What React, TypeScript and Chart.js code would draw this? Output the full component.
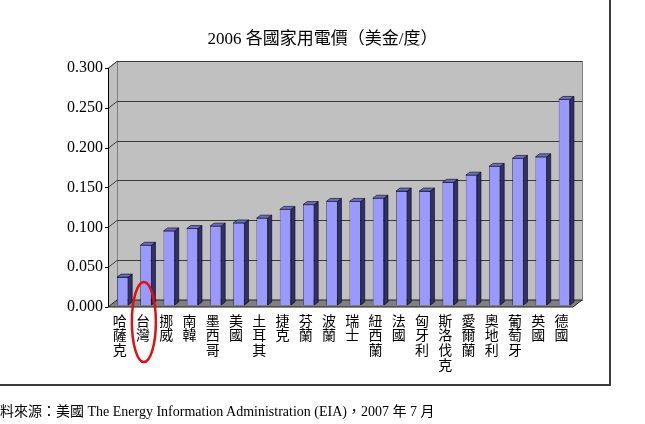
import React, { useEffect, useRef } from "react";
import { Chart, registerables } from "chart.js";

Chart.register(...registerables);

const TITLE = "2006 各國家用電價（美金/度）";
const SOURCE = "資料來源：美國 The Energy Information Administration (EIA)，2007 年 7 月";

const categories = [
  "哈薩克", "台灣", "挪威", "南韓", "墨西哥", "美國", "土耳其", "捷克", "芬蘭", "波蘭",
  "瑞士", "紐西蘭", "法國", "匈牙利", "斯洛伐克", "愛爾蘭", "奧地利", "葡萄牙", "英國", "德國",
];
const prices = [
  0.035, 0.075, 0.093, 0.096, 0.099, 0.103, 0.109, 0.120, 0.126, 0.130,
  0.130, 0.134, 0.143, 0.143, 0.154, 0.163, 0.174, 0.184, 0.186, 0.258,
];
const yMin = 0;
const yMax = 0.3;
const yStep = 0.05;
const highlightIndex = 1;

const DX = 9;
const DY = -7;
const BDX = 4;
const BDY = -3;
const SHIFT_X = 3;
const SHIFT_Y = -2;

const threeD = {
  id: "threeD",
  beforeDatasetsDraw(chart: any) {
    const { ctx, chartArea } = chart;
    const { left: L, right: R, top: T, bottom: B } = chartArea;
    const y = chart.scales.y;
    ctx.save();
    ctx.fillStyle = "#c0c0c0";
    ctx.beginPath();
    ctx.moveTo(L, T); ctx.lineTo(L + DX, T + DY); ctx.lineTo(L + DX, B + DY); ctx.lineTo(L, B);
    ctx.closePath(); ctx.fill();
    ctx.fillRect(L + DX, T + DY, R - L, B - T);
    ctx.strokeStyle = "#808080"; ctx.lineWidth = 1;
    ctx.strokeRect(L + DX + 0.5, T + DY + 0.5, R - L, B - T);
    ctx.beginPath();
    ctx.moveTo(L + 0.5, T); ctx.lineTo(L + DX + 0.5, T + DY);
    ctx.stroke();
    ctx.strokeStyle = "#3a3a3a"; ctx.lineWidth = 1;
    for (let v = yMin + yStep; v <= yMax + 1e-9; v += yStep) {
      const py = Math.round(y.getPixelForValue(v)) + 0.5;
      ctx.beginPath();
      ctx.moveTo(L, py); ctx.lineTo(L + DX, py + DY); ctx.lineTo(R + DX, py + DY);
      ctx.stroke();
    }
    ctx.fillStyle = "#808080";
    ctx.beginPath();
    ctx.moveTo(L, B); ctx.lineTo(L + DX, B + DY); ctx.lineTo(R + DX, B + DY); ctx.lineTo(R, B);
    ctx.closePath(); ctx.fill();
    ctx.strokeStyle = "#202020";
    ctx.stroke();
    ctx.strokeStyle = "#000"; ctx.lineWidth = 1;
    ctx.beginPath();
    ctx.moveTo(L + 0.5, T); ctx.lineTo(L + 0.5, B);
    for (let v = yMin; v <= yMax + 1e-9; v += yStep) {
      const py = Math.round(y.getPixelForValue(v)) + 0.5;
      ctx.moveTo(L - 3, py); ctx.lineTo(L, py);
    }
    ctx.stroke();
    ctx.restore();
    ctx.save();
    ctx.translate(SHIFT_X, SHIFT_Y);
  },
  afterDatasetsDraw(chart: any) {
    const { ctx } = chart;
    const meta = chart.getDatasetMeta(0);
    ctx.save();
    ctx.lineWidth = 0.6;
    ctx.strokeStyle = "#000";
    meta.data.forEach((bar: any) => {
      const w = bar.width;
      const xl = bar.x - w / 2;
      const xr = bar.x + w / 2;
      const yt = bar.y;
      const yb = bar.base;
      ctx.fillStyle = "#303070";
      ctx.beginPath();
      ctx.moveTo(xr, yt); ctx.lineTo(xr + BDX, yt + BDY); ctx.lineTo(xr + BDX, yb + BDY); ctx.lineTo(xr, yb);
      ctx.closePath(); ctx.fill(); ctx.stroke();
      ctx.fillStyle = "#6b6bcc";
      ctx.beginPath();
      ctx.moveTo(xl, yt); ctx.lineTo(xl + BDX, yt + BDY); ctx.lineTo(xr + BDX, yt + BDY); ctx.lineTo(xr, yt);
      ctx.closePath(); ctx.fill(); ctx.stroke();
    });
    ctx.restore();
    ctx.restore();
  },
  afterDraw(chart: any) {
    const { ctx } = chart;
    const x = chart.scales.x;
    const cx = x.getPixelForValue(highlightIndex) + 1;
    ctx.save();
    ctx.strokeStyle = "#e01010";
    ctx.lineWidth = 2.5;
    ctx.beginPath();
    ctx.ellipse(cx, 322, 12, 40, 0, 0, Math.PI * 2);
    ctx.stroke();
    ctx.restore();
  },
};

export default function App() {
  const ref = useRef<HTMLCanvasElement>(null);
  useEffect(() => {
    const chart = new Chart(ref.current!, {
      type: "bar",
      data: {
        labels: categories,
        datasets: [
          {
            data: prices,
            backgroundColor: "#9999ff",
            borderColor: "#000",
            borderWidth: 0.6,
            categoryPercentage: 1,
            barPercentage: 0.48,
          },
        ],
      },
      options: {
        animation: false,
        responsive: false,
        devicePixelRatio: 1,
        layout: { padding: { top: 68, left: 0, right: 72, bottom: 0 } },
        plugins: {
          legend: { display: false },
          tooltip: { enabled: false },
          title: { display: false },
        },
        scales: {
          x: {
            grid: { display: false, drawTicks: false },
            border: { display: false },
            ticks: {
              autoSkip: false,
              maxRotation: 0,
              minRotation: 0,
              padding: 6,
              color: "#000",
              font: { family: '"Noto Sans CJK TC", sans-serif', size: 14, lineHeight: 1.05 },
              callback: (_v: any, i: number) => Array.from(categories[i]),
            },
            afterFit: (s: any) => { s.height = 117; },
          },
          y: {
            min: yMin,
            max: yMax,
            grid: { display: false, drawTicks: false },
            border: { display: false },
            ticks: {
              stepSize: yStep,
              padding: 5,
              color: "#000",
              font: { family: '"Liberation Serif", serif', size: 16 },
              callback: (v: any) => Number(v).toFixed(3),
            },
            afterFit: (s: any) => { s.width = 108; },
          },
        },
      },
      plugins: [threeD],
    });
    return () => chart.destroy();
  }, []);

  return (
    <div style={{ position: "fixed", left: 0, top: 0, width: 645, height: 424, background: "#fff", overflow: "hidden" }}>
      <div
        style={{
          position: "absolute", left: -5, top: -5, width: 616, height: 391,
          border: "2px solid #3c3c3c", boxSizing: "border-box",
        }}
      />
      <canvas ref={ref} width={645} height={424} style={{ position: "absolute", left: 0, top: 0, width: 645, height: 424 }} />
      <div
        style={{
          position: "absolute", left: 0, top: 28, width: 645, textAlign: "center", whiteSpace: "nowrap",
          fontFamily: '"Liberation Serif", "Noto Sans CJK TC", serif', fontSize: 17, color: "#000", lineHeight: "22px",
        }}
      >
        {TITLE}
      </div>
      <div
        style={{
          position: "absolute", left: -14, top: 403, whiteSpace: "nowrap",
          fontFamily: '"Liberation Serif", "Noto Sans CJK TC", serif', fontSize: 14, color: "#000", lineHeight: "17px",
        }}
      >
        {SOURCE}
      </div>
    </div>
  );
}
